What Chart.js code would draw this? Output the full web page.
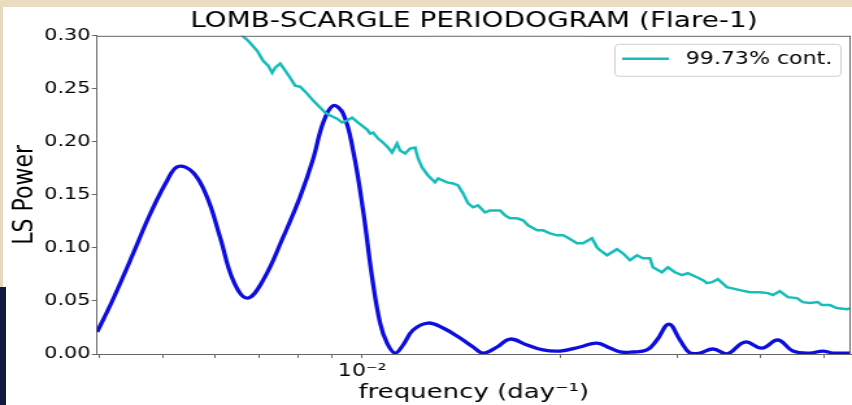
<!DOCTYPE html>
<html>
<head>
<meta charset="utf-8">
<script src="https://cdn.jsdelivr.net/npm/chart.js@4/dist/chart.umd.min.js"></script>
<style>
  html, body { margin: 0; padding: 0; background: #fff; overflow: hidden; }
  body { width: 852px; height: 405px; position: relative; }
  /* the source picture is stretched sideways, so draw narrow and widen */
  #wrap { position: absolute; left: 0; top: 0; width: 656px; height: 405px;
          transform: scaleX(1.29878); transform-origin: 0 0; }
  .edge { position: absolute; }
  #topband { left: 0; top: 0; width: 852px; height: 7px; background: #ebdcc1; }
  #leftband { left: 0; top: 7px; width: 3px; height: 280px; background: #e6d8bf; }
  #navy { left: 0; top: 287px; width: 6px; height: 118px; background: #111a3f; }
</style>
</head>
<body>
<div id="wrap"><canvas id="chart" width="656" height="405"></canvas></div>
<div class="edge" id="topband"></div>
<div class="edge" id="leftband"></div>
<div class="edge" id="navy"></div>
<script>
/* ===== data ===== */
const X_MIN = 0.00397, X_MAX = 0.0549;
const X_TICKS = [0.004, 0.005, 0.006, 0.007, 0.008, 0.009, 0.01, 0.02, 0.03, 0.04, 0.05];
const Y_TICK_STEP = 0.05;

// LS power (blue)
const lsFreq = [
  0.003972, 0.004157, 0.004349, 0.004504, 0.004778, 0.005070, 0.005266, 0.005549,
  0.005827, 0.006097, 0.006379, 0.006699, 0.007083, 0.007593, 0.008055, 0.008432,
  0.008730, 0.009042, 0.009360, 0.009691, 0.010035, 0.010354, 0.010647, 0.010909,
  0.011218, 0.011535, 0.011945, 0.012584, 0.013258, 0.014068, 0.014723, 0.015247,
  0.016005, 0.016747, 0.017767, 0.018785, 0.019929, 0.021368, 0.022674, 0.023726,
  0.024565, 0.025704, 0.026987, 0.027942, 0.029131, 0.030273, 0.031345, 0.032453,
  0.033963, 0.035663, 0.037970, 0.040290, 0.042599, 0.044875, 0.047613, 0.049810,
  0.051582, 0.054914
];
const lsPower = [
  0.0207, 0.0460, 0.0730, 0.0950, 0.1320, 0.1636, 0.1768, 0.1712,
  0.1477, 0.1100, 0.0696, 0.0527, 0.0696, 0.1100, 0.1480, 0.1840,
  0.2180, 0.2342, 0.2267, 0.1919, 0.1354, 0.0724, 0.0292, 0.0103,
  0.0009, 0.0085, 0.0226, 0.0292, 0.0245, 0.0150, 0.0066, 0.0009,
  0.0066, 0.0141, 0.0085, 0.0038, 0.0028, 0.0066, 0.0103, 0.0056,
  0.0019, 0.0019, 0.0038, 0.0132, 0.0282, 0.0132, 0.0009, 0.0009,
  0.0047, 0.0000, 0.0113, 0.0056, 0.0132, 0.0028, 0.0009, 0.0028,
  0.0009, 0.0009
];

// 99.73% confidence level (cyan)
const confFreq = [
  0.006538, 0.006723, 0.006937, 0.007083, 0.007208, 0.007309, 0.007386, 0.007516,
  0.007594, 0.007782, 0.007918, 0.008058, 0.008256, 0.008432, 0.008640, 0.008791,
  0.008946, 0.009167, 0.009327, 0.009490, 0.009657, 0.009862, 0.010176, 0.010283,
  0.010391, 0.010573, 0.010759, 0.010948, 0.011101, 0.011296, 0.011415, 0.011616,
  0.011820, 0.012028, 0.012154, 0.012325, 0.012585, 0.012896, 0.013031, 0.013447,
  0.013731, 0.013972, 0.014218, 0.014468, 0.014722, 0.014981, 0.015351, 0.015621,
  0.016174, 0.016458, 0.016747, 0.017160, 0.017523, 0.017831, 0.018399, 0.018788,
  0.019251, 0.019726, 0.020142, 0.020424, 0.021148, 0.021594, 0.022282, 0.022673,
  0.022912, 0.023478, 0.024310, 0.024823, 0.025435, 0.026062, 0.026612, 0.027270,
  0.027556, 0.028435, 0.029035, 0.029751, 0.030485, 0.031129, 0.032120, 0.032799,
  0.033259, 0.033843, 0.034558, 0.035659, 0.037310, 0.038632, 0.040001, 0.041132,
  0.041855, 0.042888, 0.044099, 0.045503, 0.046464, 0.047611, 0.048956, 0.049643,
  0.051046, 0.052305, 0.054159, 0.054918
];
const confPower = [
  0.3019, 0.2953, 0.2859, 0.2765, 0.2718, 0.2652, 0.2699, 0.2737,
  0.2699, 0.2605, 0.2530, 0.2520, 0.2455, 0.2389, 0.2323, 0.2276,
  0.2248, 0.2219, 0.2182, 0.2201, 0.2229, 0.2182, 0.2116, 0.2078,
  0.2088, 0.2031, 0.1994, 0.1947, 0.1900, 0.1984, 0.1919, 0.1890,
  0.1937, 0.1947, 0.1843, 0.1759, 0.1683, 0.1618, 0.1655, 0.1618,
  0.1608, 0.1589, 0.1514, 0.1420, 0.1383, 0.1401, 0.1335, 0.1354,
  0.1354, 0.1307, 0.1279, 0.1279, 0.1260, 0.1213, 0.1166, 0.1166,
  0.1138, 0.1119, 0.1119, 0.1100, 0.1044, 0.1044, 0.1091, 0.1006,
  0.0978, 0.0931, 0.0988, 0.0950, 0.0884, 0.0931, 0.0903, 0.0903,
  0.0818, 0.0771, 0.0818, 0.0771, 0.0743, 0.0762, 0.0724, 0.0696,
  0.0668, 0.0677, 0.0705, 0.0630, 0.0602, 0.0583, 0.0583, 0.0574,
  0.0555, 0.0592, 0.0536, 0.0527, 0.0489, 0.0480, 0.0489, 0.0461,
  0.0461, 0.0433, 0.0423, 0.0433
];

const FONT = "'DejaVu Sans', sans-serif";
const SPINE = "#666";
const zip = (xs, ys) => xs.map((x, i) => ({ x, y: ys[i] }));

// top/right spines + legend box inside the axes (matplotlib style)
const frame = {
  id: "frame",
  afterDraw(chart) {
    const { ctx, chartArea: a } = chart;
    ctx.save();
    ctx.strokeStyle = SPINE; ctx.lineWidth = 1;
    ctx.beginPath();
    ctx.moveTo(a.left, a.top + 0.5); ctx.lineTo(a.right, a.top + 0.5);
    ctx.moveTo(a.right - 0.5, a.top); ctx.lineTo(a.right - 0.5, a.bottom);
    ctx.stroke();

    const ds = chart.data.datasets[0];
    const bx = a.right - 182, by = a.top + 8, bw = 174, bh = 32;
    ctx.beginPath();
    ctx.roundRect(bx + 0.5, by + 0.5, bw, bh, 3);
    ctx.fillStyle = "rgba(255,255,255,0.85)"; ctx.fill();
    ctx.strokeStyle = "#d0d0d0"; ctx.stroke();
    ctx.beginPath();
    ctx.moveTo(bx + 6, by + 15); ctx.lineTo(bx + 42, by + 15);
    ctx.strokeStyle = ds.borderColor; ctx.lineWidth = 2.5; ctx.stroke();
    ctx.fillStyle = "#000"; ctx.font = "17px " + FONT;
    ctx.textBaseline = "middle"; ctx.textAlign = "left";
    ctx.fillText(ds.label, bx + 55, by + 15.5);
    ctx.restore();
  }
};

new Chart(document.getElementById("chart"), {
  type: "line",
  data: { datasets: [
    { label: "99.73% cont.", data: zip(confFreq, confPower), borderColor: "#17bdbb",
      borderWidth: 2.5, pointRadius: 0, tension: 0 },
    { label: "LS power", data: zip(lsFreq, lsPower), borderColor: "#0d0de0",
      borderWidth: 3.3, pointRadius: 0, tension: 0.4 },
  ]},
  options: {
    responsive: false, animation: false, devicePixelRatio: 1,
    layout: { padding: { left: 2, right: 1, top: 0, bottom: 0 } },
    plugins: {
      legend: { display: false }, tooltip: { enabled: false },
      title: { display: true, fullSize: false, text: "LOMB-SCARGLE PERIODOGRAM (Flare-1)",
        color: "#000", font: { family: FONT, size: 21.5, weight: "normal", lineHeight: 1.2 },
        padding: { top: 9, bottom: 1 } }
    },
    scales: {
      x: {
        type: "logarithmic", min: X_MIN, max: X_MAX, bounds: "data",
        afterBuildTicks: s => { s.ticks = X_TICKS.map(v => ({ value: v })); },
        afterFit: s => { s.height = 51; },
        ticks: { autoSkip: false, maxRotation: 0, padding: 3, color: "#000",
          font: { family: FONT, size: 17 },
          callback: v => (v === 0.01 ? "10⁻²" : "") },
        grid: { drawOnChartArea: false, tickLength: 4, color: SPINE },
        border: { color: SPINE },
        title: { display: true, text: "frequency (day⁻¹)", color: "#000",
          font: { family: FONT, size: 20 }, padding: { top: 0, bottom: 0 } }
      },
      y: {
        min: 0, max: 0.3,
        afterFit: s => { s.width = 72.7; },
        ticks: { stepSize: Y_TICK_STEP, padding: 1, color: "#000",
          font: { family: FONT, size: 16 }, callback: v => v.toFixed(2) },
        grid: { drawOnChartArea: false, tickLength: 4, color: SPINE },
        border: { color: SPINE },
        title: { display: true, text: "LS Power", color: "#000",
          font: { family: FONT, size: 22 }, padding: { top: 4, bottom: 0 } }
      }
    }
  },
  plugins: [frame]
});
</script>
</body>
</html>
